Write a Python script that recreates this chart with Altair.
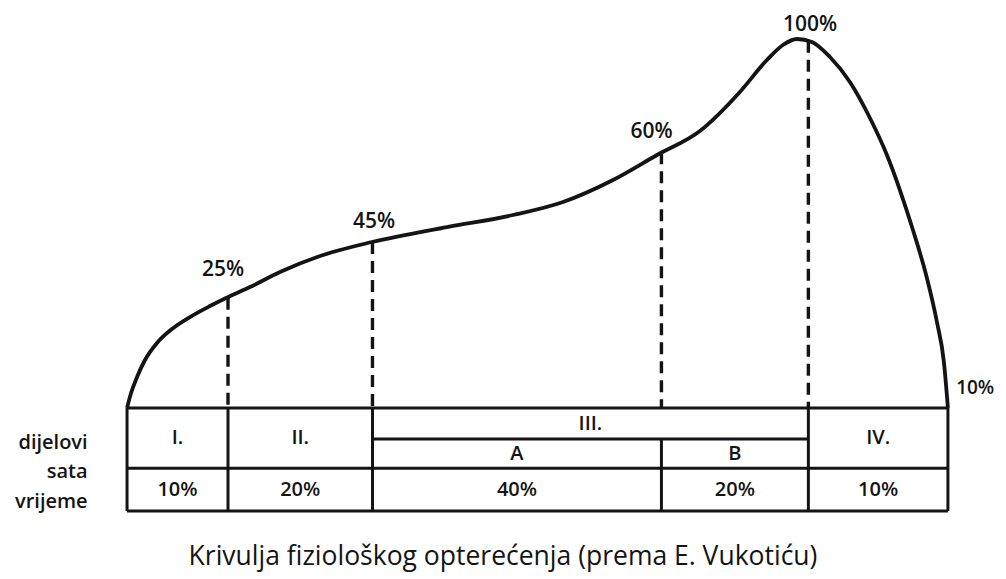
import altair as alt
import pandas as pd

# ---- data ----
# curve: x = position across the hour (table width = 100), y = load height (peak = 100)
curve_x = [0, 0.49, 1.22, 2.19, 3.65, 5.48, 7.67, 10.11, 12.06, 14.98, 18.64, 23.51,
           29.84, 38.98, 47.02, 53.11, 59.20, 64.56, 69.79, 74.66, 77.95, 79.90, 81.61,
           83.43, 85.63, 88.06, 90.50, 92.57, 94.15, 95.74, 97.44, 98.66, 99.51, 100]
curve_y = [0, 4.07, 8.40, 13.01, 17.62, 21.41, 24.66, 27.64, 29.81, 32.79, 36.86, 41.19,
           44.99, 49.05, 52.30, 55.83, 61.79, 68.56, 75.07, 85.64, 94.31, 98.37, 100,
           99.19, 95.12, 88.35, 78.59, 68.56, 59.08, 48.24, 35.23, 23.31, 12.47, 0]

# boundaries of the parts of the hour along the table
boundaries = [0, 12.3, 29.9, 65.1, 83.0, 100]
# dashed drop lines (x, height where they meet the curve)
dash_x = [12.3, 29.9, 65.1, 83.0]
dash_top = [29.9, 45.0, 69.3, 99.5]

# percentage labels on the curve
pct_labels = ["25%", "45%", "60%", "100%"]
pct_x = [11.7, 30.1, 63.9, 83.2]
pct_y = [37.4, 50.4, 74.8, 103.8]
end_label = "10%"

# table
parts = ["I.", "II.", "IV."]
parts_x = [6.15, 21.1, 91.5]
sub_parts = ["A", "B"]
sub_x = [47.5, 74.05]
part_iii = "III."
times = ["10%", "20%", "40%", "20%", "10%"]
times_x = [6.15, 21.1, 47.5, 74.05, 91.5]
row_names = ["dijelovi", "sata", "vrijeme"]

caption = "Krivulja fiziološkog opterećenja (prema E. Vukotiću)"

# ---- table geometry (vertical levels in the same units) ----
TOP, MID3, ROW, BOT = 0, -8.4, -16.3, -27.9

xs = alt.Scale(domain=[-14.5, 106.1], nice=False, zero=False)
ys = alt.Scale(domain=[-31.7, 108.4], nice=False, zero=False)
X = lambda f: alt.X(f, type="quantitative", scale=xs, axis=None)
Y = lambda f: alt.Y(f, type="quantitative", scale=ys, axis=None)

FONT = "Open Sans"
INK = "#141414"

curve_df = pd.DataFrame({"x": curve_x, "y": curve_y})
curve = alt.Chart(curve_df).mark_line(
    color=INK, strokeWidth=3.8, interpolate="monotone"
).encode(x=X("x"), y=Y("y"))

dash_df = pd.DataFrame({"x": dash_x, "y": dash_top, "y2": [TOP] * len(dash_x)})
dashes = alt.Chart(dash_df).mark_rule(
    color=INK, strokeWidth=3.4, strokeDash=[12, 7]
).encode(x=X("x"), y=Y("y"), y2="y2")

# horizontal table lines
h_rows = [
    (boundaries[0], boundaries[-1], TOP),
    (boundaries[2], boundaries[4], MID3),
    (boundaries[0], boundaries[-1], ROW),
    (boundaries[0], boundaries[-1], BOT),
]
h_df = pd.DataFrame(h_rows, columns=["x", "x2", "y"])
hlines = alt.Chart(h_df).mark_rule(color=INK, strokeWidth=3).encode(
    x=X("x"), x2="x2", y=Y("y"))

# vertical table lines
v_rows = [(b, TOP, BOT) for b in boundaries if b != 65.1] + [(65.1, MID3, BOT)]
v_df = pd.DataFrame(v_rows, columns=["x", "y", "y2"])
vlines = alt.Chart(v_df).mark_rule(color=INK, strokeWidth=3).encode(
    x=X("x"), y=Y("y"), y2="y2")

text_style = dict(font=FONT, fontWeight=600, color=INK, align="center", baseline="middle")

pct_df = pd.DataFrame({"x": pct_x, "y": pct_y, "t": pct_labels})
pct = alt.Chart(pct_df).mark_text(fontSize=21, **text_style).encode(
    x=X("x"), y=Y("y"), text="t:N")

end_df = pd.DataFrame({"x": [101.0], "y": [5.4], "t": [end_label]})
end_txt = alt.Chart(end_df).mark_text(
    fontSize=19, font=FONT, fontWeight=600, color=INK, align="left", baseline="middle"
).encode(x=X("x"), y=Y("y"), text="t:N")

mid_main = (TOP + ROW) / 2
mid_iii = (TOP + MID3) / 2
mid_sub = (MID3 + ROW) / 2
mid_time = (ROW + BOT) / 2

cells = pd.DataFrame({
    "x": parts_x + sub_x + [(boundaries[2] + boundaries[4]) / 2] + times_x,
    "y": [mid_main] * 3 + [mid_sub] * 2 + [mid_iii] + [mid_time] * 5,
    "t": parts + sub_parts + [part_iii] + times,
})
cell_txt = alt.Chart(cells).mark_text(fontSize=20, **text_style).encode(
    x=X("x"), y=Y("y"), text="t:N")

rows_df = pd.DataFrame({"x": [-4.8] * 3, "y": [-9.5, -17.3, -25.5], "t": row_names})
row_txt = alt.Chart(rows_df).mark_text(
    fontSize=20, font=FONT, fontWeight=600, color=INK, align="right", baseline="middle"
).encode(x=X("x"), y=Y("y"), text="t:N")

chart = alt.layer(
    curve, dashes, hlines, vlines, pct, end_txt, cell_txt, row_txt
).properties(
    width=990, height=517,
    padding={"left": 0, "top": 0, "right": 0, "bottom": 6},
    title=alt.TitleParams(caption, orient="bottom", anchor="middle", fontSize=26.5,
                          font=FONT, fontWeight="normal", color=INK, offset=19),
).configure(
    background="white",
    view=alt.ViewConfig(stroke=None),
)

chart.save("out.html", embed_options={"renderer": "svg", "actions": False})
